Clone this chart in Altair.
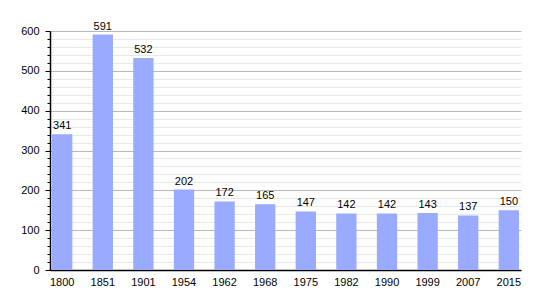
import altair as alt
import pandas as pd

years = ["1800", "1851", "1901", "1954", "1962", "1968", "1975", "1982", "1990", "1999", "2007", "2015"]
population = [341, 591, 532, 202, 172, 165, 147, 142, 142, 143, 137, 150]

df = pd.DataFrame({"year": years, "pop": population})

FONT = "Liberation Sans"

x = alt.X("year:N", sort=years, title=None,
          scale=alt.Scale(paddingInner=0.5, paddingOuter=0.05),
          axis=alt.Axis(labelAngle=0, ticks=False, domainColor="black", domainWidth=1.5,
                        labelFont=FONT, labelFontSize=11, labelColor="black", labelPadding=6, grid=False))

y = alt.Y("pop:Q", title=None,
          scale=alt.Scale(domain=[0, 600], nice=False, zero=True),
          axis=alt.Axis(values=list(range(0, 601, 20)),
                        labelExpr="datum.value % 100 === 0 ? datum.label : ''",
                        labelOverlap=False, labelFlush=False,
                        gridColor={"condition": {"test": "datum.value % 100 === 0", "value": "#b8b8b8"}, "value": "#e8e8e8"},
                        tickSize={"condition": {"test": "datum.value % 100 === 0", "value": 5}, "value": 3},
                        tickColor="black", domainColor="black", domainWidth=1.5,
                        labelFont=FONT, labelFontSize=11, labelColor="black", labelPadding=6))

bars = alt.Chart(df).mark_bar(color="#99aaff").encode(x=x, y=y)
labels = alt.Chart(df).mark_text(baseline="bottom", dy=-3, font=FONT, fontSize=11, color="black").encode(
    x=x, y=y, text="pop:Q")

chart = alt.layer(bars, labels).properties(
    width=471, height=239,
    autosize=alt.AutoSizeParams(type="none"),
    padding={"left": 50, "top": 31, "right": 29, "bottom": 30},
    background="white",
).configure_view(stroke=None)

chart.save("out.html", embed_options={"renderer": "svg", "actions": False})
